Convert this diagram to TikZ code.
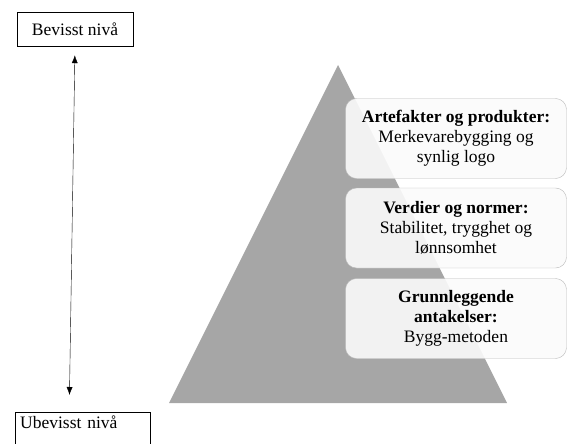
\documentclass[tikz,border=0pt]{standalone}
\usepackage{fontspec}
\setmainfont{Liberation Serif}
\usetikzlibrary{arrows.meta}

\tikzset{
    levelbox/.style={draw=black, fill=white, inner sep=0pt,
        font=\fontsize{17.5}{20}\selectfont},
    layerbox/.style={draw=gray!55, fill=gray!3, fill opacity=0.9, text opacity=1,
        rounded corners=11pt, minimum width=221pt, minimum height=80pt,
        align=center, font=\fontsize{17.5}{20}\selectfont}
}

\begin{document}
\begin{tikzpicture}[x=1pt, y=-1pt]
    \useasboundingbox (0,0) rectangle (568,444);
    \clip (0,0) rectangle (568,444);

    \fill[gray!70] (169,403) -- (338,65) -- (507,403) -- cycle;

    \node[levelbox, minimum width=116pt, minimum height=34pt] (bevisst) at (75,29) {Bevisst nivå};
    \node[levelbox, anchor=north west, text width=125pt, inner xsep=5pt, inner ysep=4pt,
        text depth=24pt] (ubevisst) at (15,412) {Ubevisst nivå};

    \draw[{Latex[length=8pt,width=6pt]}-{Latex[length=8pt,width=6pt]}, shorten <=9pt, shorten >=17pt]
        (bevisst.south) -- ([xshift=-13.5pt]ubevisst.north);

    \node[layerbox] (artefakter) at (456,138.5) {\textbf{Artefakter og produkter:}\\Merkevarebygging og\\synlig logo};
    \node[layerbox] (verdier) at (456,228) {\textbf{Verdier og normer:}\\Stabilitet, trygghet og\\lønnsomhet};
    \node[layerbox] (antakelser) at (456,318.5) {\textbf{Grunnleggende}\\\textbf{antakelser:}\\Bygg-metoden};
\end{tikzpicture}
\end{document}
